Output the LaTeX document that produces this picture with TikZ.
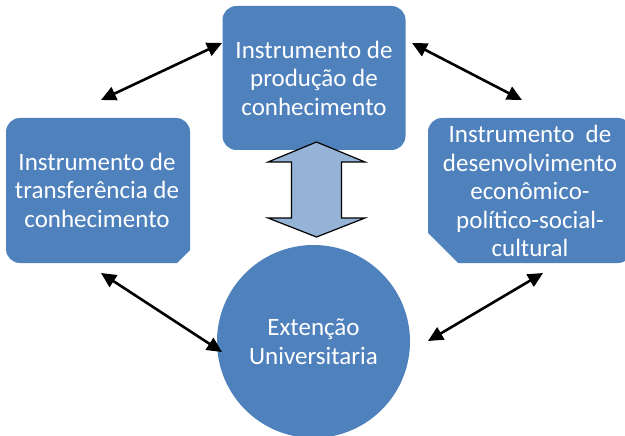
\documentclass[tikz,border=0pt]{standalone}
\usepackage{fontspec}
\setmainfont{Carlito}
\usetikzlibrary{arrows.meta}
\definecolor{boxblue}{HTML}{4F81BD}
\definecolor{arrowblue}{HTML}{95B3D7}
\tikzset{
  boxtext/.style={text=white, align=center, font=\fontsize{25}{28.5}\selectfont},
  link/.style={{Triangle[length=15pt,width=14pt]}-{Triangle[length=15pt,width=14pt]}, line width=2.6pt, black}
}
\begin{document}
\begin{tikzpicture}[x=1pt,y=-1pt]
         \useasboundingbox (0,0) rectangle (625,436);
         \clip (0,0) rectangle (625,436);
         \fill[boxblue] (6,190) [rounded corners=14] -- (6,118) -- (190,118) [sharp corners] -- (190,250) -- (177,263) [rounded corners=14] -- (6,263) -- cycle;
         \fill[boxblue] (428,190) [rounded corners=14] -- (428,118) -- (632,118) -- (632,263) [sharp corners] -- (458,263) -- (428,233) -- cycle;
         \node[boxtext, fill=boxblue, rounded corners=14, minimum width=183pt, minimum height=144pt] (producao) at (314,78) {Instrumento de\\produção de\\conhecimento};
         \node[boxtext] (transferencia) at (97,190) {Instrumento de\\transferência de\\conhecimento};
         \node[boxtext] (desenvolvimento) at (530,191) {Instrumento\ \ de\\desenvolvimento\\econômico-\\político-social-\\cultural};
         \node[boxtext, circle, fill=boxblue, minimum size=193pt] (extensao) at (313.5,341.5) {Extenção\\Universitaria};
         \draw[fill=arrowblue, line width=1.2pt, line join=miter] (316.5,142) -- (365,162) -- (341.5,162) -- (341.5,218) -- (365,218) -- (316.5,237) -- (268,218) -- (291.5,218) -- (291.5,162) -- (268,162) -- cycle;
         \coordinate (tlA) at (101,100);
         \coordinate (tlB) at (222,43);
         \coordinate (trA) at (412,43);
         \coordinate (trB) at (522,100);
         \coordinate (blA) at (101,273);
         \coordinate (blB) at (222,352);
         \coordinate (brA) at (543,273);
         \coordinate (brB) at (428,341);
         \draw[link] (tlA) -- (tlB);
         \draw[link] (trA) -- (trB);
         \draw[link] (blA) -- (blB);
         \draw[link] (brA) -- (brB);
      \end{tikzpicture}
\end{document}
